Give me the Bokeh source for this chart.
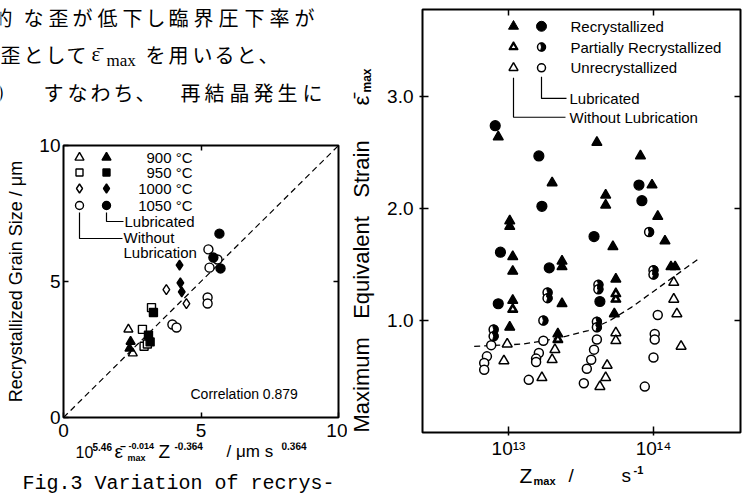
import math
from bokeh.plotting import figure
from bokeh.models import (Range1d, LinearAxis, LogAxis, FixedTicker, Label,
                          BasicTickFormatter, NumeralTickFormatter)
from bokeh.layouts import row, column
from bokeh.embed import file_html
from bokeh.resources import INLINE
from bokeh.core.properties import value

# ---------------- Left chart (grain size) data ----------------
left_ticks = [0, 5, 10]
diag_x = [0, 10]
diag_y = [0, 10]
t900_lub_x = [2.44, 2.40]
t900_lub_y = [2.79, 2.54]
t900_dry_x = [2.36, 2.52]
t900_dry_y = [3.24, 2.36]
t950_lub_x = [3.27, 3.09, 3.15]
t950_lub_y = [3.86, 3.03, 2.78]
t950_dry_x = [3.20, 2.87, 2.93, 3.05]
t950_dry_y = [4.04, 3.24, 2.62, 2.70]
t1000_lub_x = [4.22, 4.25, 4.30]
t1000_lub_y = [5.60, 4.95, 4.62]
t1000_dry_x = [3.74, 4.47]
t1000_dry_y = [4.70, 4.19]
t1050_lub_x = [5.67, 5.45, 5.71]
t1050_lub_y = [6.76, 5.88, 5.48]
t1050_dry_x = [5.27, 5.60, 5.31, 5.24, 5.24, 3.96, 4.11]
t1050_dry_y = [6.18, 5.81, 5.51, 4.41, 4.19, 3.42, 3.31]
legend_temps = ["900 °C", "950 °C", "1000 °C", "1050 °C"]
correlation_text = "Correlation  0.879"

# ---------------- Right chart (max equivalent strain) data ----------------
right_x_ticks = [1e13, 1e14]
right_y_ticks = [1.0, 2.0, 3.0]
lub_rec_z = [8.1e12, 8.8e12, 8.5e12, 1.62e13, 1.70e13, 1.91e13, 3.89e13, 4.27e13, 7.94e13, 8.32e13]
lub_rec_e = [2.74, 1.61, 1.15, 2.47, 2.02, 1.47, 1.75, 1.17, 2.21, 2.07]
lub_part_z = [7.9e12, 7.9e12, 1.86e13, 1.86e13, 1.74e13, 4.17e13, 4.17e13, 4.07e13, 4.07e13, 9.33e13, 1.0e14, 1.0e14]
lub_part_e = [0.92, 0.86, 1.25, 1.20, 1.00, 1.32, 1.28, 0.99, 0.94, 1.79, 1.45, 1.41]
lub_unrec_z = [7.6e12, 7.1e12, 6.8e12, 6.8e12, 1.74e13, 1.62e13, 1.55e13, 1.55e13, 1.38e13,
               4.07e13, 3.89e13, 3.72e13, 3.47e13, 3.31e13, 1.07e14, 1.02e14, 1.02e14, 1.0e14, 8.71e13]
lub_unrec_e = [0.78, 0.68, 0.62, 0.56, 0.82, 0.71, 0.66, 0.63, 0.47,
               0.83, 0.74, 0.65, 0.57, 0.44, 1.05, 0.88, 0.83, 0.67, 0.41]
dry_rec_z = [8.5e12, 1.02e13, 1.02e13, 1.07e13, 1.07e13, 1.07e13, 1.02e13, 2.0e13, 2.34e13, 2.34e13,
             2.34e13, 2.19e13, 4.07e13, 4.68e13, 4.68e13, 5.25e13, 5.5e13, 5.37e13, 8.13e13, 9.77e13,
             1.07e14, 1.20e14, 1.32e14, 1.41e14]
dry_rec_e = [2.64, 1.89, 1.84, 1.57, 1.44, 1.18, 0.94, 2.23, 1.53, 1.48,
             1.15, 0.88, 2.59, 2.12, 2.03, 1.66, 1.37, 1.06, 2.47, 2.21,
             1.93, 1.71, 1.48, 1.48]
dry_part_z = [1.07e13, 2.19e13, 5.5e13, 5.5e13]
dry_part_e = [1.10, 0.83, 1.24, 1.19]
dry_unrec_z = [9.8e12, 9.3e12, 2.09e13, 2.0e13, 1.70e13, 5.5e13, 5.5e13, 4.79e13, 4.68e13, 4.27e13,
               1.38e14, 1.38e14, 1.45e14, 1.55e14]
dry_unrec_e = [0.79, 0.64, 0.74, 0.65, 0.49, 0.89, 0.82, 0.60, 0.49, 0.41,
               1.34, 1.19, 1.06, 0.77]
curve_z = [5.8e12, 8.9e12, 1.26e13, 1.78e13, 2.51e13, 3.55e13, 5.01e13, 7.08e13, 1.0e14, 1.41e14, 2.09e14]
curve_e = [0.77, 0.78, 0.79, 0.82, 0.86, 0.91, 1.00, 1.12, 1.26, 1.40, 1.56]
legend_states = ["Recrystallized", "Partially Recrystallized", "Unrecrystallized"]

# ---------------- layout geometry (picture pixels) ----------------
SANS = "Liberation Sans"
JP = "Noto Sans CJK JP"
ORG = 0                        # the layout starts at the picture's top-left corner
TOTAL_H = 494
A_X0, A_W = ORG, 347           # left column
B_X0, B_W = A_X0 + A_W, 28     # right-chart y title strip
C_X0 = B_X0 + B_W
C_W = 750 - C_X0               # right column
TOP_Y0, TOP_H = ORG, 128
P1_Y0, P1_H = TOP_Y0 + TOP_H, 314
BOT_Y0 = P1_Y0 + P1_H
BOT_H = TOTAL_H - TOP_H - P1_H
P2_H = 461
XT2_Y0 = ORG + P2_H
XT2_H = TOTAL_H - P2_H
LF_L, LF_R, LF_T, LF_B = 63, 338, 145, 417
RF_L, RF_R, RF_T, RF_B = 422, 740, 9, 437
R_LX0, R_DEC, R_UNIT = 12.407, 145.0, 113.3


def Lx(ix):
    return (ix - LF_L) / ((LF_R - LF_L) / 10.0)


def Ly(iy):
    return (LF_B - iy) / ((LF_B - LF_T) / 10.0)


def Rx(ix):
    return 10 ** (R_LX0 + (ix - RF_L) / R_DEC)


def Ry(iy):
    return (RF_B - iy) / R_UNIT


def lab(p, fx, fy, ix, iy, text, size, font=SANS, align="left"):
    p.add_layout(Label(x=fx(ix), y=fy(iy), text=text, text_font=font, text_font_size=size,
                       text_align=align, text_baseline="middle", text_color="black"))


def text_fig(w, h):
    f = figure(width=w, height=h, output_backend="svg", toolbar_location=None,
               x_range=Range1d(0, w), y_range=Range1d(h, 0), min_border=0,
               x_axis_location=None, y_axis_location=None, frame_align=False)
    f.grid.visible = False
    f.outline_line_color = None
    f.background_fill_color = "white"
    f.border_fill_color = "white"
    return f


def put(f, ox, oy, ix, iy, text, size, font=SANS, align="left", angle=0.0, style="normal"):
    f.text(x=[ix - ox], y=[iy - oy], text=[text], text_font=value(font), text_font_size=value(size),
           text_align=align, text_baseline="middle", angle=angle, text_font_style=style,
           text_color="black")


def hidden_axis(cls, ticks, tin=5):
    return cls(ticker=FixedTicker(ticks=ticks), formatter=BasicTickFormatter(),
               major_label_text_font_size="1px", major_label_text_color=None,
               major_label_standoff=0, major_tick_in=tin, major_tick_out=0,
               minor_tick_in=0, minor_tick_out=0, axis_line_color=None,
               major_tick_line_color="black", major_tick_line_width=1.5)


mk = dict(line_color="black", line_width=1.4)

# ================= Japanese text above the left chart =================
top = text_fig(A_W, TOP_H)
line1 = "的な歪が低下し臨界圧下率が"
line1_x = [-8, 23, 48, 72, 97, 122, 145, 168, 193, 218, 244, 269, 294]
for c, ix in zip(line1, line1_x):
    put(top, A_X0, TOP_Y0, ix, 17, c, "20px", font=JP)
line2a = "歪として"
line2a_x = [0, 23, 45, 66]
for c, ix in zip(line2a, line2a_x):
    put(top, A_X0, TOP_Y0, ix, 54, c, "20px", font=JP)
put(top, A_X0, TOP_Y0, 91, 53, "ε̄", "21px", font="Liberation Serif")
put(top, A_X0, TOP_Y0, 106, 60, "max", "17px", font="Liberation Serif")
line2b = "を用いると、"
line2b_x = [145, 168, 192, 214, 236, 258]
for c, ix in zip(line2b, line2b_x):
    put(top, A_X0, TOP_Y0, ix, 54, c, "20px", font=JP)
line3 = "）すなわち、再結晶発生に"
line3_x = [-4, 43, 67, 90, 113, 135, 180, 204, 229, 253, 277, 302]
for c, ix in zip(line3, line3_x):
    put(top, A_X0, TOP_Y0, ix, 92, c, "20px", font=JP)

# ================= LEFT CHART =================
p1 = figure(width=A_W, height=P1_H, output_backend="svg", toolbar_location=None,
            x_range=Range1d(0, 10), y_range=Range1d(0, 10), frame_align=False,
            min_border_left=LF_L - A_X0, min_border_right=A_X0 + A_W - LF_R,
            min_border_top=LF_T - P1_Y0, min_border_bottom=P1_Y0 + P1_H - LF_B)
p1.grid.visible = False
p1.outline_line_color = "black"
p1.outline_line_width = 2
p1.background_fill_color = "white"
p1.border_fill_color = "white"
for ax in (p1.xaxis[0], p1.yaxis[0]):
    ax.ticker = FixedTicker(ticks=left_ticks)
    ax.axis_line_color = None
    ax.major_tick_in = 5
    ax.major_tick_out = 0
    ax.major_tick_line_width = 1.5
    ax.minor_tick_in = 0
    ax.minor_tick_out = 0
    ax.major_label_text_font = SANS
    ax.major_label_text_font_size = "19px"
    ax.major_label_text_color = "black"
p1.xaxis.major_label_standoff = 6
p1.yaxis.major_label_standoff = 3
p1.yaxis.axis_label = "Recrystallized Grain Size / μm"
p1.yaxis.axis_label_text_font = SANS
p1.yaxis.axis_label_text_font_size = "18px"
p1.yaxis.axis_label_text_font_style = "normal"
p1.yaxis.axis_label_text_color = "black"
p1.yaxis.axis_label_standoff = 10
p1.add_layout(hidden_axis(LinearAxis, [5]), "above")
p1.add_layout(hidden_axis(LinearAxis, [5]), "right")

p1.line(diag_x, diag_y, line_color="black", line_width=1.2, line_dash="6 4")
p1.scatter(t900_dry_x, t900_dry_y, marker="triangle", size=9, fill_color="white", **mk)
p1.scatter(t900_lub_x, t900_lub_y, marker="triangle", size=9, fill_color="black", **mk)
p1.scatter(t950_dry_x, t950_dry_y, marker="square", size=8, fill_color="white", **mk)
p1.scatter(t950_lub_x, t950_lub_y, marker="square", size=8, fill_color="black", **mk)
p1.scatter(t1000_dry_x, t1000_dry_y, marker="diamond", size=10, fill_color="white", **mk)
p1.scatter(t1000_lub_x, t1000_lub_y, marker="diamond", size=10, fill_color="black", **mk)
p1.scatter(t1050_dry_x, t1050_dry_y, marker="circle", size=9, fill_color="white", **mk)
p1.scatter(t1050_lub_x, t1050_lub_y, marker="circle", size=9, fill_color="black", **mk)

leg_rows = [157, 172, 188, 205]
leg_markers = [("triangle", 9), ("square", 7), ("diamond", 9), ("circle", 8)]
for (m, s), iy, t in zip(leg_markers, leg_rows, legend_temps):
    p1.scatter([Lx(79)], [Ly(iy)], marker=m, size=s, fill_color="white", **mk)
    p1.scatter([Lx(106)], [Ly(iy)], marker=m, size=s, fill_color="black", **mk)
    lab(p1, Lx, Ly, 192, iy, t, "15px", align="right")
p1.line([Lx(106), Lx(106), Lx(123)], [Ly(212), Ly(221), Ly(221)], line_color="black", line_width=1.2)
p1.line([Lx(79), Lx(79), Lx(122)], [Ly(212), Ly(238), Ly(238)], line_color="black", line_width=1.2)
lab(p1, Lx, Ly, 124, 221, "Lubricated", "15px")
lab(p1, Lx, Ly, 123, 237, "Without", "15px")
lab(p1, Lx, Ly, 123, 252, "Lubrication", "15px")
lab(p1, Lx, Ly, 190, 393, correlation_text, "14px")

# ================= text below the left chart =================
bot = text_fig(A_W, BOT_H)
put(bot, A_X0, BOT_Y0, 75, 451, "10", "16px")
put(bot, A_X0, BOT_Y0, 92, 446, "5.46", "10px", style="bold")
put(bot, A_X0, BOT_Y0, 114, 451, "ε̄", "19px")
put(bot, A_X0, BOT_Y0, 127, 457, "max", "9px", style="bold")
put(bot, A_X0, BOT_Y0, 128, 445, "-0.014", "9px", style="bold")
put(bot, A_X0, BOT_Y0, 158, 451, "Z", "19px")
put(bot, A_X0, BOT_Y0, 174, 445, "-0.364", "10px", style="bold")
put(bot, A_X0, BOT_Y0, 226, 451, "/ μm s", "17px")
put(bot, A_X0, BOT_Y0, 281, 445, "0.364", "10px", style="bold")
put(bot, A_X0, BOT_Y0, 22, 483, "Fig.3 Variation of recrys-", "20px", font="Liberation Mono")

# ================= right chart y title strip =================
yt = text_fig(B_W, TOTAL_H)
put(yt, B_X0, ORG, 361, 432, "Maximum\u00a0\u00a0\u00a0Equivalent\u00a0\u00a0\u00a0Strain", "22px",
    align="left", angle=math.pi / 2)
put(yt, B_X0, ORG, 361, 100, "ε̄", "22px", align="center", angle=math.pi / 2)
put(yt, B_X0, ORG, 366, 80, "max", "12px", align="center", angle=math.pi / 2, style="bold")

# ================= RIGHT CHART =================
p2 = figure(width=C_W, height=P2_H, output_backend="svg", toolbar_location=None,
            x_axis_type="log", frame_align=False,
            x_range=Range1d(Rx(RF_L), Rx(RF_R)), y_range=Range1d(0, Ry(RF_T)),
            min_border_left=RF_L - C_X0, min_border_right=C_X0 + C_W - RF_R,
            min_border_top=RF_T - ORG, min_border_bottom=ORG + P2_H - RF_B)
p2.grid.visible = False
p2.outline_line_color = "black"
p2.outline_line_width = 2
p2.background_fill_color = "white"
p2.border_fill_color = "white"
p2.xaxis.ticker = FixedTicker(ticks=right_x_ticks)
p2.xaxis.formatter = BasicTickFormatter()
p2.xaxis.major_label_overrides = {1e13: "10¹³", 1e14: "10¹⁴"}
p2.yaxis.ticker = FixedTicker(ticks=right_y_ticks)
p2.yaxis.formatter = NumeralTickFormatter(format="0.0")
for ax in (p2.xaxis[0], p2.yaxis[0]):
    ax.axis_line_color = None
    ax.major_tick_in = 6
    ax.major_tick_out = 3
    ax.major_tick_line_width = 1.5
    ax.minor_tick_in = 0
    ax.minor_tick_out = 0
    ax.major_label_text_font = SANS
    ax.major_label_text_font_size = "19px"
    ax.major_label_text_color = "black"
p2.xaxis.major_label_standoff = 2
p2.yaxis.major_label_standoff = 6
p2.add_layout(hidden_axis(LogAxis, right_x_ticks, tin=6), "above")
p2.add_layout(hidden_axis(LinearAxis, right_y_ticks, tin=6), "right")

p2.line(curve_z, curve_e, line_color="black", line_width=1.3, line_dash="6 4")


def half_circles(p, xs, ys, size=9):
    p.scatter(xs, ys, marker="circle", size=size, fill_color="white", line_color="black", line_width=1.5)
    p.wedge(xs, ys, radius=size / 2.0, radius_units="screen", start_angle=-1.8, end_angle=1.8,
            fill_color="black", line_color="black")


def part_triangles(p, xs, ys, size=10):
    p.scatter(xs, ys, marker="triangle", size=size, fill_color="black", line_color="black", line_width=1.4)
    p.scatter(xs, ys, marker="triangle", size=3.5, fill_color="white", line_color=None)


p2.scatter(dry_unrec_z, dry_unrec_e, marker="triangle", size=10, fill_color="white", line_color="black", line_width=1.5)
p2.scatter(lub_unrec_z, lub_unrec_e, marker="circle", size=9, fill_color="white", line_color="black", line_width=1.5)
p2.scatter(dry_rec_z, dry_rec_e, marker="triangle", size=10, fill_color="black", line_color="black", line_width=1.4)
p2.scatter(lub_rec_z, lub_rec_e, marker="circle", size=10, fill_color="black", line_color="black", line_width=1.2)
part_triangles(p2, dry_part_z, dry_part_e)
half_circles(p2, lub_part_z, lub_part_e)

rl_rows = [26, 47, 68]
p2.scatter([Rx(513)], [Ry(26)], marker="triangle", size=10, fill_color="black", line_color="black")
p2.scatter([Rx(541)], [Ry(26)], marker="circle", size=10, fill_color="black", line_color="black")
part_triangles(p2, [Rx(513)], [Ry(47)], size=9)
half_circles(p2, [Rx(541)], [Ry(47)], size=8)
p2.scatter([Rx(513)], [Ry(68)], marker="triangle", size=9, fill_color="white", line_color="black", line_width=1.5)
p2.scatter([Rx(541)], [Ry(68)], marker="circle", size=8, fill_color="white", line_color="black", line_width=1.5)
for iy, t in zip(rl_rows, legend_states):
    lab(p2, Rx, Ry, 570, iy, t, "15px")
p2.line([Rx(541), Rx(541), Rx(566)], [Ry(77), Ry(99), Ry(99)], line_color="black", line_width=1.2)
p2.line([Rx(513), Rx(513), Rx(565)], [Ry(78), Ry(118), Ry(118)], line_color="black", line_width=1.2)
lab(p2, Rx, Ry, 569, 99, "Lubricated", "15px")
lab(p2, Rx, Ry, 569, 118, "Without  Lubrication", "15px")

# ================= right chart x title =================
xt2 = text_fig(C_W, XT2_H)
put(xt2, C_X0, XT2_Y0, 519, 475, "Z", "21px")
put(xt2, C_X0, XT2_Y0, 533, 480, "max", "11px", style="bold")
put(xt2, C_X0, XT2_Y0, 568, 475, "/", "19px")
put(xt2, C_X0, XT2_Y0, 621, 475, "s", "19px")
put(xt2, C_X0, XT2_Y0, 633, 469, "-1", "11px", style="bold")

layout = row(column(top, p1, bot), yt, column(p2, xt2))
open("out.html", "w").write(file_html(layout, INLINE))
